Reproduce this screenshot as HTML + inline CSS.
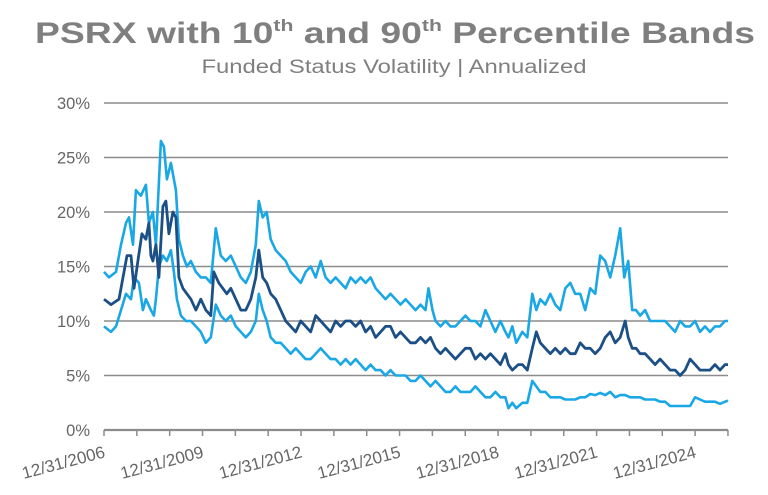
<!DOCTYPE html>
<html><head><meta charset="utf-8"><style>
body{margin:0;background:#fff;}
svg{display:block;font-family:"Liberation Sans",Arial,sans-serif;}
</style></head><body>
<svg id="s" width="768" height="495" viewBox="0 0 768 495">
<text x="395" y="43" text-anchor="middle" font-size="30" font-weight="bold" fill="#7f7f7f" textLength="720" lengthAdjust="spacingAndGlyphs">PSRX with 10<tspan font-size="17" dy="-12">th</tspan><tspan dy="12"> and 90</tspan><tspan font-size="17" dy="-12">th</tspan><tspan dy="12"> Percentile Bands</tspan></text>
<text x="394" y="73" text-anchor="middle" font-size="19" fill="#7f7f7f" textLength="385" lengthAdjust="spacingAndGlyphs">Funded Status Volatility | Annualized</text>
<g id="grid"></g>
<g id="lines" fill="none" stroke-linejoin="round"></g>
</svg>
<script>
var NS="http://www.w3.org/2000/svg",s=document.getElementById('s');
function el(t,a,p){var e=document.createElementNS(NS,t);for(var k in a)e.setAttribute(k,a[k]);(p||s).appendChild(e);return e;}
var g=document.getElementById('grid');
function Y(v){return 430-v*10.9;}
for(var i=0;i<=6;i++){var y=Y(i*5);
 if(i>0)el('line',{x1:104,x2:728,y1:y,y2:y,stroke:'#8c8c8c','stroke-width':1.6},g);
 var t=el('text',{x:90,y:y+6,'text-anchor':'end','font-size':16.5,fill:'#666'},g);t.textContent=(i*5)+'%';}
el('line',{x1:104,x2:728,y1:430,y2:430,stroke:'#8c8c8c','stroke-width':2.2},g);
for(var i=0;i<20;i++){var x=104+i*32.84;el('line',{x1:x,x2:x,y1:430,y2:436,stroke:'#8c8c8c','stroke-width':1.5},g);}
var labs=['12/31/2006','12/31/2009','12/31/2012','12/31/2015','12/31/2018','12/31/2021','12/31/2024'];
for(var i=0;i<7;i++){var x=106+i*98.5;var t=el('text',{x:x,y:457,'text-anchor':'end','font-size':17,fill:'#666',transform:'rotate(-15 '+x+' 457)'},g);t.textContent=labs[i];}
function X(x){return 104+(x-103)*(728-104)/(728-103);}
function line(d,c,w){var p=[];for(var i=0;i<d.length;i+=2)p.push(X(d[i]).toFixed(1)+','+Y(d[i+1]).toFixed(1));el('polyline',{points:p.join(' '),stroke:c,'stroke-width':w},document.getElementById('lines'));}
var hi=[103,14.5,108,14,115,14.5,120,17,125,19,128,19.5,132,17,135,22,140,21.5,145,22.5,148,19,152,20,155,17,160,26.5,163,26,166,23,170,24.5,175,22,178,17.5,182,16,186,15,190,15.5,195,14.5,200,14,205,14,210,13.5,215,18.5,220,16,225,15.5,230,16,235,15,240,14,245,13.5,250,14.5,255,17,258,21,262,19.5,266,20,270,17.5,275,16.5,280,16,285,15.5,290,14.5,295,14,300,13.5,305,14.5,310,15,315,14,320,15.5,325,14,330,13.5,335,14,340,13.5,345,13,350,14,355,13.5,360,14,365,13.5,370,14,375,13,380,12.5,385,12,390,12.5,395,12,400,11.5,405,12,410,11.5,415,11,420,11.5,425,11,428,13,432,11,435,10,440,9.5,445,10,450,9.5,455,9.5,460,10,465,10.5,470,10,475,10,480,9.5,485,11,490,10,495,9,500,10,505,9,508,8.5,512,9.5,516,8,522,9,527,8.5,532,12.5,536,11,540,12,545,11.5,550,12.5,555,11.5,560,11,565,13,570,13.5,575,12.5,580,12.5,585,11,590,13,595,12.5,600,16,605,15.5,610,14,615,16,620,18.5,624,14,628,15.5,632,11,636,11,640,10.5,645,11,650,10,655,10,660,10,665,10,670,9.5,675,9,680,10,685,9.5,690,9.5,695,10,700,9,705,9.5,710,9,715,9.5,720,9.5,725,10,728,10];
var med=[103,12,110,11.5,118,12,122,14,126,16,130,16,133,13,137,15.5,141,18,145,17.5,148,19,150,16,152,15.5,155,17,158,14,162,20.5,165,21,168,18,172,20,175,19.5,178,14,182,13,186,12.5,190,12,195,11,200,12,205,11,210,10.5,213,14.5,218,13.5,222,13,226,12.5,230,13,235,12,240,11,245,11,250,12,255,14,258,16.5,262,14,266,13.5,270,12.5,275,12,280,11,285,10,290,9.5,295,9,300,10,305,9.5,310,9,315,10.5,320,10,325,9.5,330,9,335,10,340,9.5,345,10,350,10,355,9.5,360,10,365,9,370,9.5,375,8.5,380,9,385,9.5,390,9.5,395,8.5,400,9,405,8.5,410,8,415,8,420,8.5,425,8,430,8.5,435,7.5,440,7,445,7.5,450,7,455,6.5,460,7,465,7.5,470,7.5,475,6.5,480,7,485,6.5,490,7,495,6.5,500,6,505,7,508,6,512,5.5,518,6,522,6,527,5.5,532,7.5,536,9,540,8,545,7.5,550,7,555,7.5,560,7,565,7.5,570,7,575,7,580,8,585,7.5,590,7.5,595,7,600,7.5,605,8.5,610,9,615,8,620,8.5,625,10,628,8.5,632,7.5,636,7.5,640,7,645,7,650,6.5,655,6,660,6.5,665,6,670,5.5,675,5.5,680,5,685,5.5,690,6.5,695,6,700,5.5,705,5.5,710,5.5,715,6,720,5.5,725,6,728,6];
var lo=[103,9.5,110,9,115,9.5,120,11,125,12.5,130,12,133,14,138,13.5,142,11,145,12,150,11,153,10.5,155,12,158,15,162,16,166,15.5,170,16.5,173,14.5,176,12,180,10.5,185,10,190,10,195,9.5,200,9,205,8,210,8.5,215,11.5,220,10.5,225,10,230,10.5,235,9.5,240,9,245,8.5,250,9,255,10,258,12.5,262,11,266,10,270,8.5,275,8,280,8,285,7.5,290,7,295,7.5,300,7,305,6.5,310,6.5,315,7,320,7.5,325,7,330,6.5,335,6.5,340,6,345,6.5,350,6,355,6.5,360,6,365,5.5,370,6,375,5.5,380,5.5,385,5,390,5.5,395,5,400,5,405,5,410,4.5,415,4.5,420,5,425,4.5,430,4,435,4.5,440,4,445,3.5,450,3.5,455,4,460,3.5,465,3.5,470,3.5,475,4,480,3.5,485,3,490,3,495,3.5,500,3,505,3,508,2,512,2.5,516,2,522,2.5,527,2.5,532,4.5,536,4,540,3.5,545,3.5,550,3,555,3,560,3,565,2.8,570,2.8,575,2.8,580,3,585,3,590,3.3,595,3.2,600,3.4,605,3.2,610,3.5,615,3,620,3.2,625,3.2,630,3,635,3,640,3,645,2.8,650,2.8,655,2.8,660,2.6,665,2.6,670,2.2,675,2.2,680,2.2,690,2.2,695,3,700,2.8,705,2.6,710,2.6,715,2.6,720,2.4,725,2.6,728,2.7];
line(hi,'#1aa7e6',2.6);line(lo,'#1aa7e6',2.6);line(med,'#1b4f86',2.8);
</script>
</body></html>
